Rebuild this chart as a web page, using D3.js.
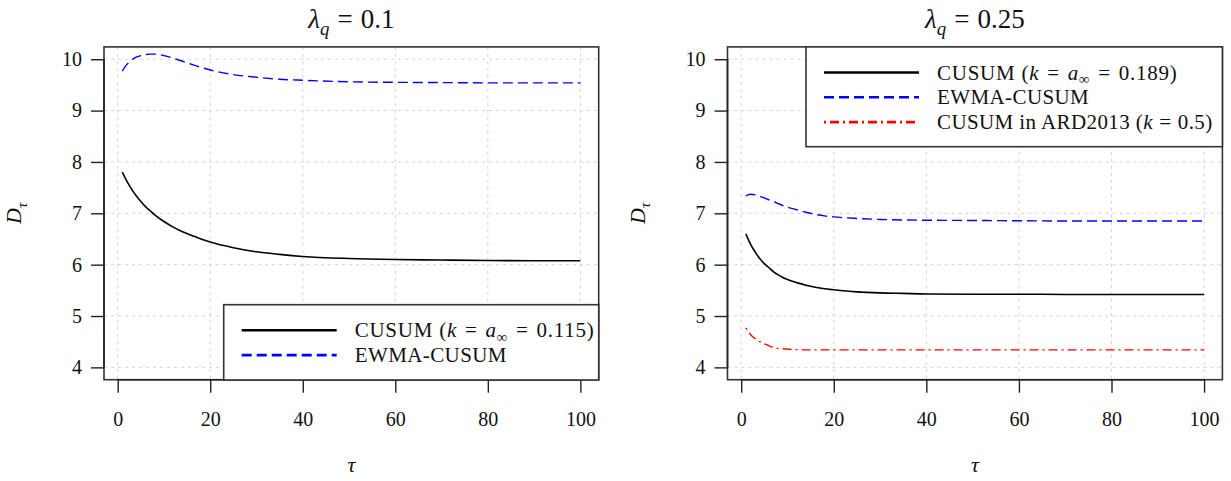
<!DOCTYPE html>
<html>
<head>
<meta charset="utf-8">
<script src="https://cdn.jsdelivr.net/npm/d3@7"></script>
<style>
  html, body { margin: 0; padding: 0; background: #fff; }
  svg text { font-family: "Liberation Serif", "DejaVu Serif", serif; fill: #111; }
</style>
</head>
<body>
<svg id="chart" width="1231" height="481"></svg>
<script>
// change-point delay τ, shared by every series
const tau = [1, 2, 3, 4, 5, 6, 7, 8, 9, 10, 12, 14, 16, 18, 20, 25, 30, 35, 40, 50, 60, 70, 80, 90, 100];

// λq = 0.1
const cusumLow = [7.80, 7.62, 7.47, 7.34, 7.23, 7.13, 7.05, 6.97, 6.90, 6.84, 6.73, 6.64, 6.57, 6.50, 6.44, 6.33, 6.25, 6.20, 6.16, 6.12, 6.10, 6.09, 6.08, 6.075, 6.075];
const ewmaLow  = [9.77, 9.90, 9.98, 10.04, 10.07, 10.09, 10.10, 10.10, 10.09, 10.07, 10.02, 9.96, 9.90, 9.84, 9.79, 9.70, 9.65, 9.61, 9.59, 9.56, 9.55, 9.545, 9.54, 9.54, 9.54];

// λq = 0.25
const cusumHigh = [6.60, 6.40, 6.25, 6.12, 6.02, 5.94, 5.86, 5.80, 5.75, 5.71, 5.65, 5.60, 5.56, 5.53, 5.51, 5.47, 5.45, 5.44, 5.43, 5.425, 5.425, 5.42, 5.42, 5.42, 5.42];
const ewmaHigh  = [7.34, 7.37, 7.36, 7.33, 7.30, 7.26, 7.23, 7.19, 7.15, 7.12, 7.07, 7.02, 6.98, 6.95, 6.93, 6.90, 6.88, 6.87, 6.865, 6.86, 6.855, 6.85, 6.85, 6.85, 6.85];
const ardHigh   = [4.77, 4.64, 4.56, 4.50, 4.46, 4.42, 4.39, 4.37, 4.36, 4.355, 4.345, 4.34, 4.34, 4.34, 4.34, 4.34, 4.34, 4.34, 4.34, 4.34, 4.34, 4.34, 4.34, 4.34, 4.34];

const xTicks = [0, 20, 40, 60, 80, 100];
const yTicks = [4, 5, 6, 7, 8, 9, 10];

const styles = {
  cusum: { color: "#000", dash: null, width: 1.6 },
  ewma:  { color: "#0000ff", dash: "10,5", width: 1.4 },
  ard:   { color: "#ff0000", dash: "2,4,9,4", width: 1.4 }
};

// label pieces: [text, kind]; "gap" pieces are math-style spaces around "="
const cusumLabel = k => [["CUSUM (", ""], ["k", "i"], ["=", "gap"], ["a", "i"], ["∞", "sub"], ["=", "gapback"], [k + ")", ""]];

const panels = [
  {
    lambda: "0.1", left: 104, right: 598.7,
    series: [
      { key: "cusum", values: cusumLow },
      { key: "ewma", values: ewmaLow }
    ],
    legend: {
      x0: 223.7, y0: 304.7, x1: 598.7, y1: 380,
      rows: [
        { key: "cusum", label: cusumLabel("0.115") },
        { key: "ewma", label: [["EWMA-CUSUM", ""]] }
      ]
    }
  },
  {
    lambda: "0.25", left: 727.5, right: 1222.4,
    series: [
      { key: "cusum", values: cusumHigh },
      { key: "ewma", values: ewmaHigh },
      { key: "ard", values: ardHigh }
    ],
    legend: {
      x0: 806, y0: 46.9, x1: 1222.4, y1: 146.7,
      rows: [
        { key: "cusum", label: cusumLabel("0.189") },
        { key: "ewma", label: [["EWMA-CUSUM", ""]] },
        { key: "ard", label: [["CUSUM in ARD2013 (", ""], ["k", "i"], ["=", "gap"], ["0.5)", ""]] }
      ]
    }
  }
];

const svg = d3.select("#chart");
const plotTop = 46.9, plotBottom = 379.7;

function richText(sel, parts, size, gapEm = 0.45) {
  const gap = size * gapEm;
  let pad = 0;
  parts.forEach(([txt, kind]) => {
    const t = sel.append("tspan").text(txt);
    if (kind === "i") t.attr("font-style", "italic");
    if (kind === "sub") t.attr("font-size", size * 0.7).attr("dy", size * 0.2);
    if (kind === "isub") t.attr("font-style", "italic").attr("font-size", size * 0.7).attr("dy", size * 0.25);
    if (kind === "gapback") t.attr("dy", -size * 0.2);
    if (kind === "gapback2") t.attr("dy", -size * 0.25);
    if (kind.startsWith("gap")) {
      t.attr("dx", gap);
      pad = gap;  // space after the "=" sign
      return;
    }
    if (pad) { t.attr("dx", pad); pad = 0; }
  });
}

panels.forEach(p => {
  const x = d3.scaleLinear().domain([-2.96, 103.96]).range([p.left, p.right]);
  const y = d3.scaleLinear().domain([3.76, 10.24]).range([plotBottom, plotTop]);
  const g = svg.append("g");

  // dotted grid
  g.append("g").selectAll("line").data(xTicks).join("line")
    .attr("x1", d => x(d)).attr("x2", d => x(d))
    .attr("y1", plotTop).attr("y2", plotBottom)
    .attr("stroke", "#d3d3d3").attr("stroke-width", 1).attr("stroke-dasharray", "3,4");
  g.append("g").selectAll("line").data(yTicks).join("line")
    .attr("y1", d => y(d)).attr("y2", d => y(d))
    .attr("x1", p.left).attr("x2", p.right)
    .attr("stroke", "#d3d3d3").attr("stroke-width", 1).attr("stroke-dasharray", "3,4");

  // series
  const line = d3.line().x((d, i) => x(tau[i])).y(d => y(d)).curve(d3.curveMonotoneX);
  p.series.forEach(s => {
    const st = styles[s.key];
    g.append("path").datum(s.values)
      .attr("d", line)
      .attr("fill", "none")
      .attr("stroke", st.color)
      .attr("stroke-width", st.width)
      .attr("stroke-dasharray", st.dash);
  });

  // plot frame
  g.append("rect")
    .attr("x", p.left).attr("y", plotTop)
    .attr("width", p.right - p.left).attr("height", plotBottom - plotTop)
    .attr("fill", "none").attr("stroke", "#333").attr("stroke-width", 1.6);

  // axes
  const xAxis = d3.axisBottom(x).tickValues(xTicks).tickSize(13).tickPadding(19).tickFormat(d3.format("d"));
  const ax = g.append("g").attr("transform", `translate(0,${plotBottom})`).call(xAxis);
  const yAxis = d3.axisLeft(y).tickValues(yTicks).tickSize(13).tickPadding(9).tickFormat(d3.format("d"));
  const ay = g.append("g").attr("transform", `translate(${p.left},0)`).call(yAxis);
  [ax, ay].forEach(a => {
    a.select(".domain").remove();
    a.selectAll(".tick line").attr("stroke", "#222").attr("stroke-width", 1.4);
    a.selectAll(".tick text").attr("font-size", 20).attr("fill", "#111");
  });
  // axis lines over the tick span
  g.append("line").attr("x1", x(0)).attr("x2", x(100)).attr("y1", plotBottom).attr("y2", plotBottom)
    .attr("stroke", "#222").attr("stroke-width", 1.6);
  g.append("line").attr("x1", p.left).attr("x2", p.left).attr("y1", y(4)).attr("y2", y(10))
    .attr("stroke", "#222").attr("stroke-width", 1.6);

  // title
  const cx = (p.left + p.right) / 2;
  const title = g.append("text").attr("x", cx).attr("y", 28).attr("text-anchor", "middle").attr("font-size", 27);
  richText(title, [["λ", "i"], ["q", "isub"], ["=", "gapback2"], [p.lambda, ""]], 27, 0.3);

  // axis titles
  g.append("text").attr("x", cx).attr("y", 472).attr("text-anchor", "middle")
    .attr("font-size", 22).attr("font-style", "italic").text("τ");
  const yl = g.append("text")
    .attr("transform", `translate(${p.left - 83},${(plotTop + plotBottom) / 2}) rotate(-90)`)
    .attr("text-anchor", "middle").attr("font-size", 22);
  richText(yl, [["D", "i"], ["τ", "isub"]], 22);

  // legend
  const L = p.legend;
  g.append("rect").attr("x", L.x0).attr("y", L.y0)
    .attr("width", L.x1 - L.x0).attr("height", L.y1 - L.y0)
    .attr("fill", "#fff").attr("stroke", "#333").attr("stroke-width", 1.6);
  L.rows.forEach((r, i) => {
    const st = styles[r.key];
    const ry = L.y0 + 25.6 + i * 24.8;
    g.append("line").attr("x1", L.x0 + 18).attr("x2", L.x0 + 113)
      .attr("y1", ry).attr("y2", ry)
      .attr("stroke", st.color).attr("stroke-width", 2.6)
      .attr("stroke-dasharray", st.dash);
    const t = g.append("text").attr("x", L.x0 + 131).attr("y", ry + 7)
      .attr("font-size", 21).attr("letter-spacing", r.key === "cusum" ? 0.75 : 0.4);
    richText(t, r.label, 21, r.key === "ard" ? 0.3 : 0.38);
  });
});
</script>
</body>
</html>
